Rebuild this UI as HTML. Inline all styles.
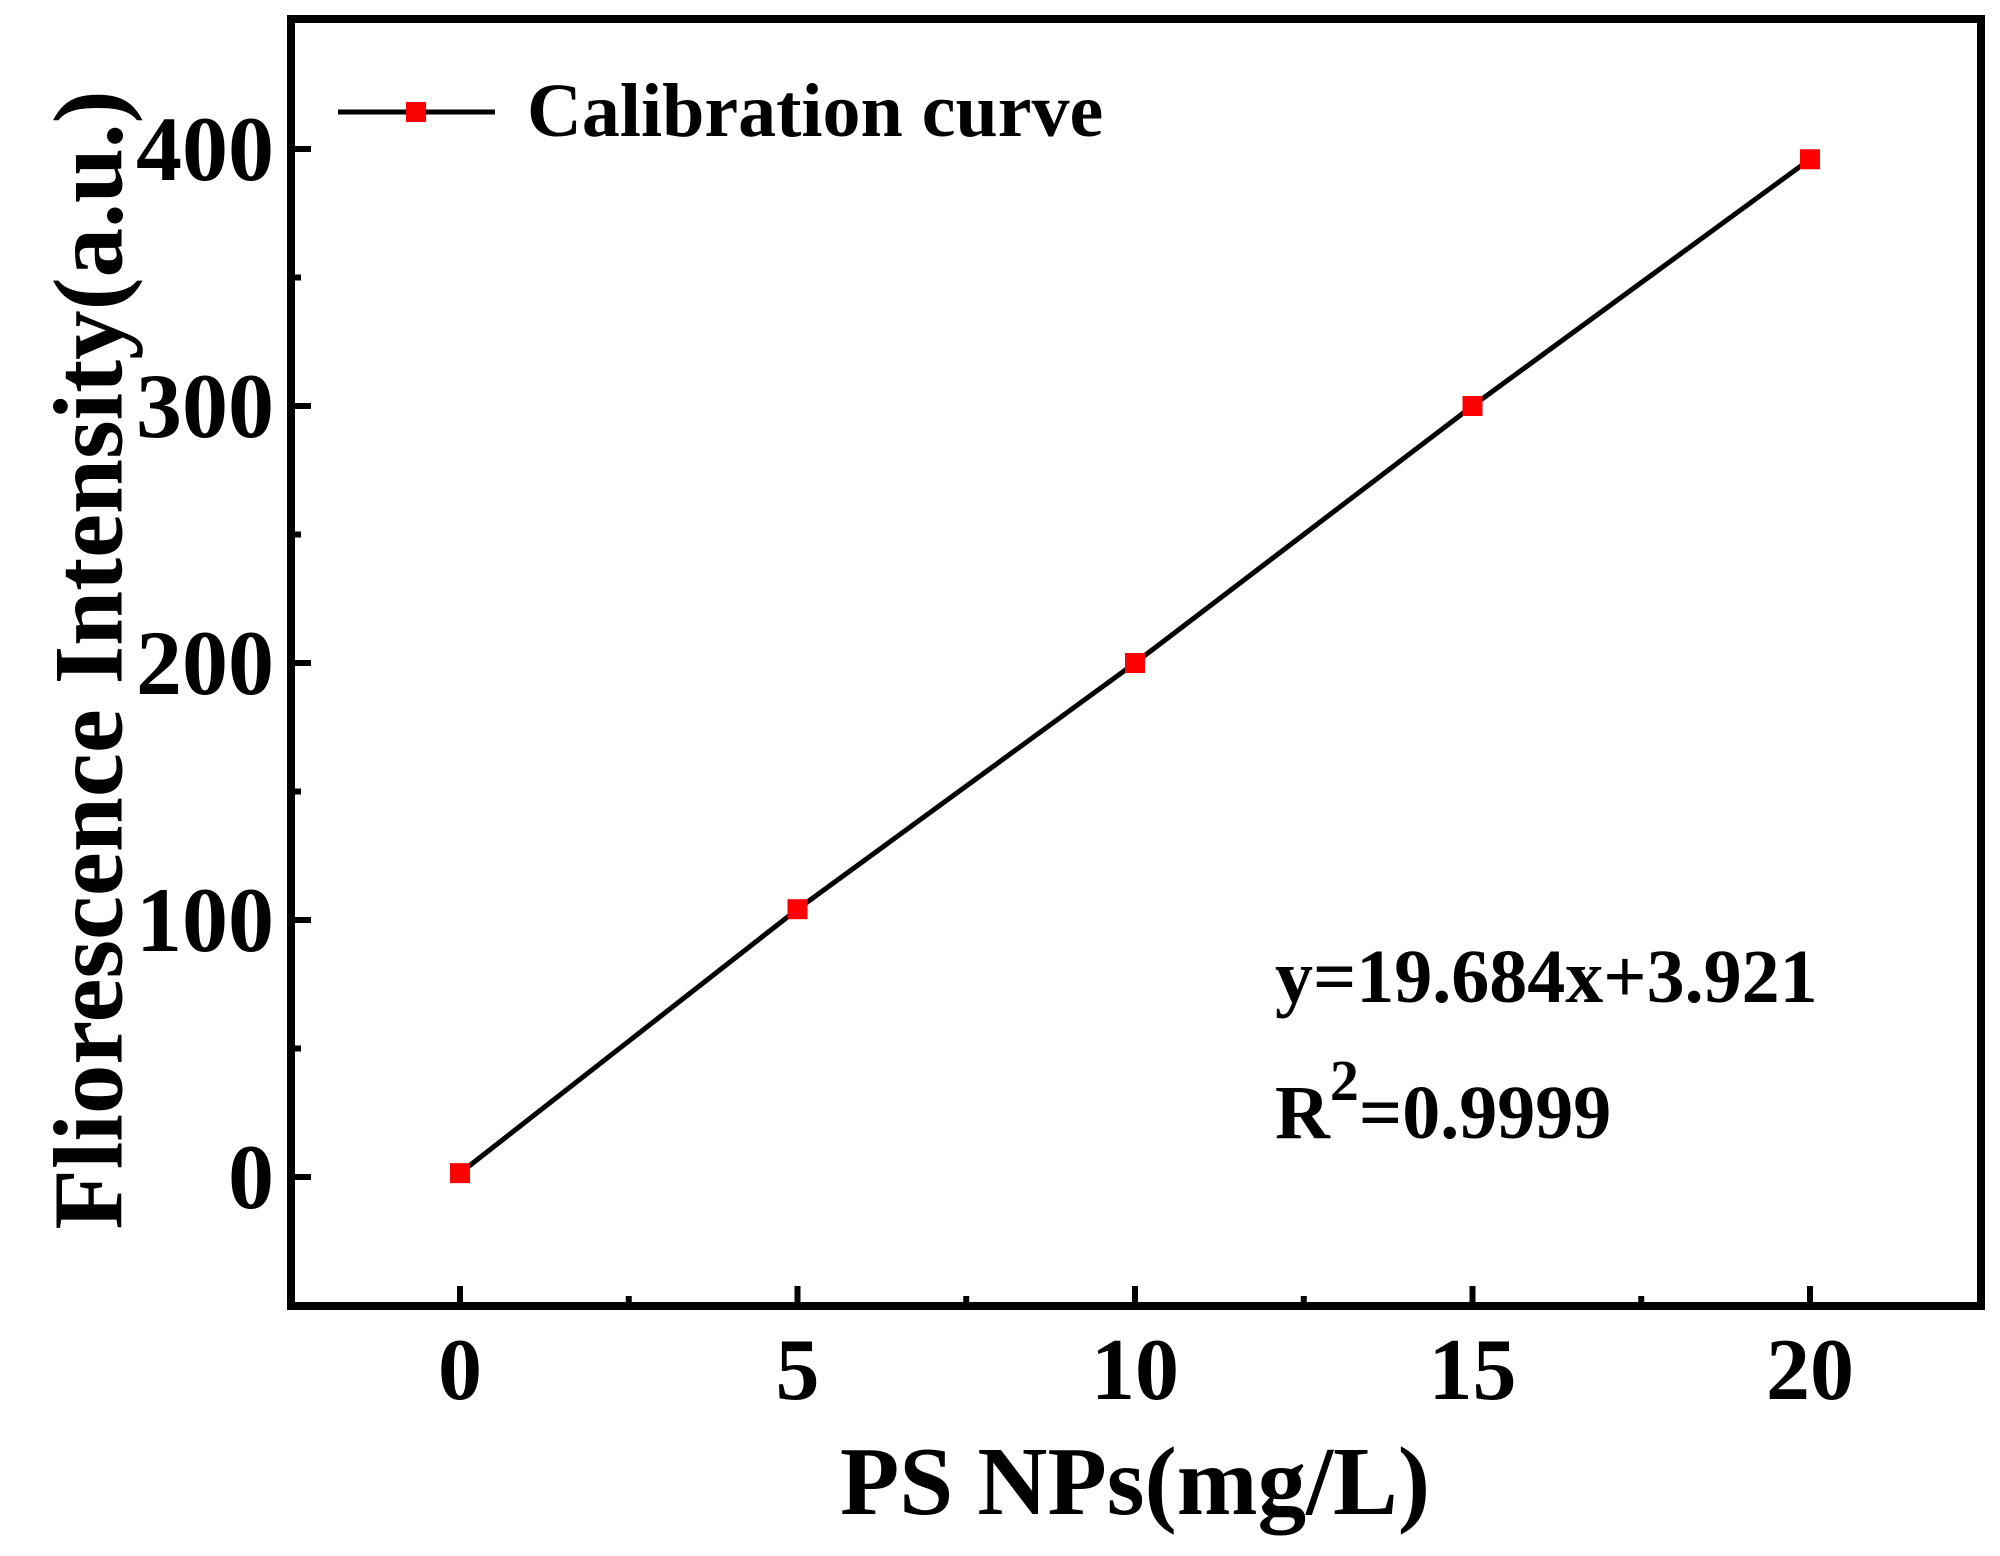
<!DOCTYPE html>
<html><head><meta charset="utf-8"><style>
html,body{margin:0;padding:0;background:#fff;}
svg{display:block;font-family:"Liberation Serif",serif;font-weight:bold;}
</style></head><body>
<svg id="chart" width="2000" height="1556" viewBox="0 0 2000 1556">
<g id="ticks"></g>
<g id="series"></g>
<rect x="291" y="19" width="1690" height="1287" fill="none" stroke="#000" stroke-width="8"/>
<text x="89" y="660" transform="rotate(-90 89 660)" text-anchor="middle" dominant-baseline="central" font-size="99">Fliorescence Intensity(a.u.)</text>
<text x="1135" y="1514" text-anchor="middle" font-size="97">PS NPs(mg/L)</text>
<g>
<line x1="338" y1="112" x2="495" y2="112" stroke="#000" stroke-width="5"/>
<rect x="406" y="102" width="20" height="20" fill="#f00"/>
<text x="527" y="136" font-size="76">Calibration curve</text>
</g>
<text x="1275" y="1002" font-size="76">y=19.684x+3.921</text>
<text x="1275" y="1138" font-size="76">R<tspan dy="-38" font-size="58">2</tspan><tspan dy="38">=0.9999</tspan></text>
</svg>
<script>
const xValues=[0,5,10,15,20];
const yValues=[1.5,104.2,200,300,396];
const xTicks=[0,5,10,15,20];
const yTicks=[0,100,200,300,400];
const xMinor=[2.5,7.5,12.5,17.5];
const yMinor=[-50,50,150,250,350];
const NS="http://www.w3.org/2000/svg";
function sx(v){return 460+(v-0)*(1350/20);}
function sy(v){return 1177-v*2.57;}
const tg=document.getElementById('ticks'), sg=document.getElementById('series');
function mk(tag,attrs,p){const e=document.createElementNS(NS,tag);for(const k in attrs)e.setAttribute(k,attrs[k]);p.appendChild(e);return e;}
xTicks.forEach(v=>{
 const l=mk('line',{x1:sx(v),x2:sx(v),y1:1306,y2:1286,stroke:'#000','stroke-width':6},tg);
 
 
 const t=mk('text',{x:sx(v),y:1399,'text-anchor':'middle','font-size':88},tg);t.textContent=v;
 
 
});
xMinor.forEach(v=>{
 const l=mk('line',{x1:sx(v),x2:sx(v),y1:1306,y2:1296,stroke:'#000','stroke-width':6},tg);
 
 
});
yTicks.forEach(v=>{
 const l=mk('line',{x1:291,x2:311,y1:sy(v),y2:sy(v),stroke:'#000','stroke-width':6},tg);
 
 
 const t=mk('text',{x:274,y:sy(v)+31,'text-anchor':'end','font-size':92},tg);t.textContent=v;
 
 
});
yMinor.forEach(v=>{
 const l=mk('line',{x1:291,x2:301,y1:sy(v),y2:sy(v),stroke:'#000','stroke-width':6},tg);
 
 
});
const pts=xValues.map((x,i)=>sx(x)+','+sy(yValues[i])).join(' ');
const pl=mk('polyline',{points:pts,fill:'none',stroke:'#000','stroke-width':5},sg);


xValues.forEach((x,i)=>{
 const r=mk('rect',{x:sx(x)-10,y:sy(yValues[i])-10,width:20,height:20,fill:'#f00'},sg);
 
 
});
</script>
</body></html>
